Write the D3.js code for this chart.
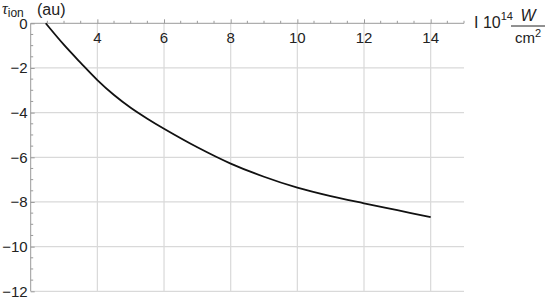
<!DOCTYPE html>
<html><head><meta charset="utf-8">
<script src="https://cdn.jsdelivr.net/npm/d3@7/dist/d3.min.js"></script>
<style>body{margin:0;background:#fff}svg{display:block}text{font-family:"Liberation Sans",Arial,sans-serif}</style>
</head><body>
<svg id="c" width="547" height="302"></svg>
<script>
const intensity = [2.45, 3, 3.5, 4, 4.5, 5, 5.5, 6, 7, 8, 9, 10, 11, 12, 13, 14];
const tauIon = [0, -0.97, -1.77, -2.54, -3.21, -3.78, -4.27, -4.72, -5.55, -6.28, -6.87, -7.36, -7.74, -8.06, -8.37, -8.68];
const xTicks = [4, 6, 8, 10, 12, 14];
const yTicks = [0, -2, -4, -6, -8, -10, -12];

const svg = d3.select("#c");
const x = d3.scaleLinear().domain([2, 15]).range([30.7, 464]);
const y = d3.scaleLinear().domain([-12, 0]).range([291.3, 23.3]);
const gridC = "#d9d9d9", axisC = "#9a9a9a";

// gridlines
svg.append("g").selectAll("line").data(xTicks).join("line")
  .attr("x1", d => x(d)).attr("x2", d => x(d)).attr("y1", y(0)).attr("y2", y(-12))
  .attr("stroke", gridC).attr("stroke-width", 1.2);
svg.append("g").selectAll("line").data(yTicks.filter(d => d !== 0)).join("line")
  .attr("x1", x(2)).attr("x2", x(15)).attr("y1", d => y(d)).attr("y2", d => y(d))
  .attr("stroke", gridC).attr("stroke-width", 1.2);

// x axis (ticks upward)
const xa = d3.axisTop(x).tickValues(xTicks).tickSize(4).tickFormat("");
const gx = svg.append("g").attr("transform", `translate(0,${y(0)})`).call(xa);
const xMinor = d3.range(2.5, 15.01, 0.5).filter(v => v % 2 !== 0);
gx.selectAll(".minor").data(xMinor).join("line").attr("class", "minor")
  .attr("x1", d => x(d)).attr("x2", d => x(d)).attr("y1", 0).attr("y2", -2.5);
gx.selectAll("path,line").attr("stroke", axisC);
gx.select(".domain").attr("d", `M${x(2)},0H${x(15)}`);
svg.append("g").selectAll("text").data(xTicks).join("text")
  .attr("x", d => x(d)).attr("y", y(0) + 20).attr("text-anchor", "middle")
  .attr("font-size", 15).attr("fill", "#222").text(d => d);

// y axis (ticks to the right)
const ya = d3.axisRight(y).tickValues(yTicks).tickSize(4).tickFormat("");
const gy = svg.append("g").attr("transform", `translate(${x(2)},0)`).call(ya);
const yMinor = d3.range(-11.5, 0, 0.5).filter(v => v % 2 !== 0);
gy.selectAll(".minor").data(yMinor).join("line").attr("class", "minor")
  .attr("y1", d => y(d)).attr("y2", d => y(d)).attr("x1", 0).attr("x2", 2.5);
gy.selectAll("path,line").attr("stroke", axisC);
gy.select(".domain").attr("d", `M0,${y(0)}V${y(-12)}`);
svg.append("g").selectAll("text").data(yTicks).join("text")
  .attr("x", x(2) - 3).attr("y", d => y(d) + 5.5).attr("text-anchor", "end")
  .attr("font-size", 15).attr("fill", "#222").text(d => d === 0 ? "0" : "\u2212" + Math.abs(d));

// curve
const line = d3.line().x((d, i) => x(intensity[i])).y(d => y(d)).curve(d3.curveCatmullRom.alpha(0.5));
svg.append("path").attr("d", line(tauIon)).attr("fill", "none")
  .attr("stroke", "#111").attr("stroke-width", 1.8);

// y label
const yl = svg.append("text").attr("x", 2).attr("y", 14).attr("font-size", 16).attr("fill", "#222");
yl.append("tspan").attr("font-style", "italic").attr("font-family", "Liberation Serif").text("\u03c4");
yl.append("tspan").attr("font-size", 12).attr("dy", 3).text("ion");
svg.append("text").attr("x", 37).attr("y", 15).attr("font-size", 16).attr("fill", "#222").text("(au)");

// x label
const xl = svg.append("text").attr("x", 474).attr("y", 28).attr("font-size", 16).attr("fill", "#222");
xl.append("tspan").text("I 10");
xl.append("tspan").attr("font-size", 11).attr("dy", -8).text("14");
svg.append("line").attr("x1", 511).attr("x2", 545).attr("y1", 26).attr("y2", 26).attr("stroke", "#222").attr("stroke-width", 1);
svg.append("text").attr("x", 528).attr("y", 21).attr("text-anchor", "middle").attr("font-size", 16)
  .attr("font-style", "italic").attr("fill", "#222").text("W");
const cm = svg.append("text").attr("x", 528).attr("y", 43).attr("text-anchor", "middle").attr("font-size", 15).attr("fill", "#222");
cm.append("tspan").text("cm");
cm.append("tspan").attr("font-size", 11).attr("dy", -6).text("2");
</script>
</body></html>
